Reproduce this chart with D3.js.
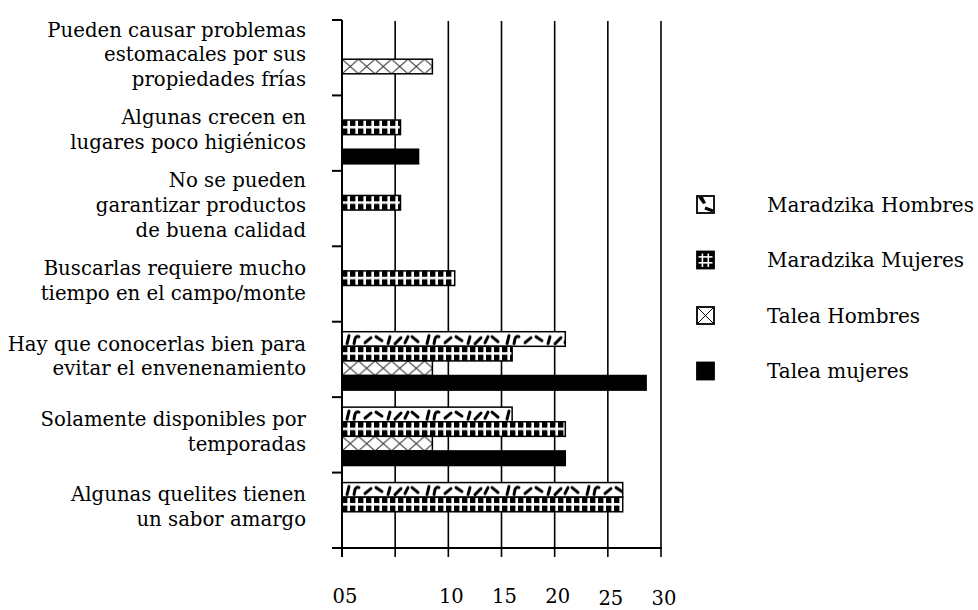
<!DOCTYPE html>
<html><head><meta charset="utf-8">
<script src="https://cdn.jsdelivr.net/npm/d3@7"></script>
<style>body{margin:0;background:#fff}svg{display:block}</style>
</head><body>
<svg id="c" width="978" height="610"></svg>
<script>
const categories = [
  ["Pueden causar problemas","estomacales por sus","propiedades frías"],
  ["Algunas crecen en","lugares poco higiénicos"],
  ["No se pueden","garantizar productos","de buena calidad"],
  ["Buscarlas requiere mucho","tiempo en el campo/monte"],
  ["Hay que conocerlas bien para","evitar el envenenamiento"],
  ["Solamente disponibles por","temporadas"],
  ["Algunas quelites tienen","un sabor amargo"]
];
const seriesNames = ["Maradzika Hombres","Maradzika Mujeres","Talea Hombres","Talea mujeres"];
const maradzikaHombres = [0, 0, 0, 0, 21, 16, 26.4];
const maradzikaMujeres = [0, 5.5, 5.5, 10.6, 16, 21, 26.4];
const taleaHombres     = [8.5, 0, 0, 0, 8.5, 8.5, 0];
const taleaMujeres     = [0, 7.2, 0, 0, 28.6, 21, 0];
const seriesValues = [maradzikaHombres, maradzikaMujeres, taleaHombres, taleaMujeres];
const tickValues = [0, 10, 15, 20, 25, 30];
const tickLabels = ["05", "10", "15", "20", "25", "30"];
const gridValues = [5, 10, 15, 20, 25, 30];

const svg = d3.select("#c");
const FONT = "'DejaVu Serif', serif";
const x = d3.scaleLinear().domain([0, 30]).range([342, 661]);
const y = d3.scaleBand().domain(d3.range(categories.length)).range([20, 548]);
const BH = 14.6;
const ys = d3.scaleBand().domain(d3.range(4)).range([10, 10 + 4 * BH]);
const defs = svg.append("defs");

let pid = 0;
function patMH(ox, oy) {
  const id = "p" + (pid++);
  const W = 80;
  const p = defs.append("pattern").attr("id", id).attr("patternUnits","userSpaceOnUse")
    .attr("x", ox).attr("y", oy).attr("width", W).attr("height", BH);
  p.append("rect").attr("width", W).attr("height", BH).attr("fill","#fff");
  ["M5,12 L7,4","M12,12 L13,7 Q14,4 17,5","M23,11 L29,6","M34,5 L40,9","M46,12 L48,5",
   "M53,12 L59,6","M63,11 L66,5","M70,5 L76,10"]
    .forEach(d => p.append("path").attr("d", d).attr("fill","none").attr("stroke","#000")
      .attr("stroke-width", 3).attr("stroke-linecap","round"));
  return "url(#" + id + ")";
}
function patMM(ox, oy) {
  const id = "p" + (pid++);
  const p = defs.append("pattern").attr("id", id).attr("patternUnits","userSpaceOnUse")
    .attr("x", ox).attr("y", oy).attr("width", 8).attr("height", BH);
  p.append("rect").attr("width", 8).attr("height", BH).attr("fill","#fff");
  p.append("rect").attr("x", 0).attr("y", 0).attr("width", 5.4).attr("height", 5.9).attr("fill","#000");
  p.append("rect").attr("x", 0).attr("y", 8.4).attr("width", 5.4).attr("height", 6.2).attr("fill","#000");
  return "url(#" + id + ")";
}
function patTH(ox, oy) {
  const id = "p" + (pid++);
  const p = defs.append("pattern").attr("id", id).attr("patternUnits","userSpaceOnUse")
    .attr("x", ox).attr("y", oy).attr("width", 16.5).attr("height", BH);
  p.append("rect").attr("width", 16.5).attr("height", BH).attr("fill","#fff");
  p.append("path").attr("d", `M0,0 L16.5,${BH} M16.5,0 L0,${BH}`).attr("stroke","#333").attr("stroke-width", 1);
  return "url(#" + id + ")";
}
const fillers = [patMH, patMM, patTH, () => "#000"];

// gridlines
svg.append("g").selectAll("line").data(gridValues).join("line")
  .attr("x1", d => x(d)).attr("x2", d => x(d)).attr("y1", 21).attr("y2", 557)
  .attr("stroke","#000").attr("stroke-width", 1.6);

// bars
categories.forEach((cat, i) => {
  seriesValues.forEach((vals, s) => {
    const v = vals[i];
    if (!v) return;
    const top = y(i) + ys(s);
    svg.append("rect").attr("x", x(0)).attr("y", top)
      .attr("width", x(v) - x(0)).attr("height", ys.bandwidth())
      .attr("fill", fillers[s](x(0), top)).attr("stroke","#000").attr("stroke-width", 1.5);
  });
});

// axes
svg.append("line").attr("x1",342).attr("x2",342).attr("y1",20).attr("y2",548).attr("stroke","#000").attr("stroke-width",2);
svg.append("line").attr("x1",332).attr("x2",662).attr("y1",548).attr("y2",548).attr("stroke","#000").attr("stroke-width",2);
svg.append("g").selectAll("line").data(d3.range(categories.length)).join("line")
  .attr("x1",332).attr("x2",342).attr("y1", d => y(d)).attr("y2", d => y(d))
  .attr("stroke","#000").attr("stroke-width",2);
svg.append("line").attr("x1",x(0)).attr("x2",x(0)).attr("y1",548).attr("y2",557).attr("stroke","#000").attr("stroke-width",2);

// x tick labels
svg.append("g").selectAll("text").data(tickValues).join("text")
  .attr("x", d => x(d) + 3).attr("y", d => d >= 25 ? 604.5 : 603).attr("text-anchor","middle")
  .attr("font-family", FONT).attr("font-size", 19.5).attr("fill","#000")
  .text((d, i) => tickLabels[i]);

// category labels
const LH = 24.7, FS = 19.7;
categories.forEach((lines, i) => {
  const center = y(i) + y.bandwidth() / 2 - 3;
  const firstBase = Math.max(center - (lines.length - 1) * LH / 2 + 6.5, 30.7);
  lines.forEach((t, k) => {
    svg.append("text").attr("x", 306).attr("y", firstBase + k * LH)
      .attr("text-anchor","end").attr("font-family", FONT).attr("font-size", FS)
      .attr("fill","#000").text(t);
  });
});

// legend
const lg = svg.append("g");
const IS = 17;
seriesNames.forEach((name, s) => {
  const cy = 204.5 + s * 55.5;
  const ix = 697, iy = cy - IS / 2;
  const fill = (s === 0 || s === 2) ? "#fff" : "#000";
  lg.append("rect").attr("x", ix).attr("y", iy).attr("width", IS).attr("height", IS)
    .attr("fill", fill).attr("stroke","#000").attr("stroke-width", 1.8);
  if (s === 0) {
    lg.append("path").attr("d", `M${ix+1},${iy+1} L${ix+6},${iy+1} L${ix+9},${iy+7} L${ix+6},${iy+8} Z`).attr("fill","#000");
    lg.append("path").attr("d", `M${ix+8},${iy+12} L${ix+IS-1},${iy+IS-2}`).attr("stroke","#000").attr("stroke-width",3);
  } else if (s === 1) {
    [5.4, 11.3].forEach(o => {
      lg.append("line").attr("x1", ix + o).attr("x2", ix + o).attr("y1", iy + 2).attr("y2", iy + IS - 1.5).attr("stroke","#fff").attr("stroke-width",1.6);
      lg.append("line").attr("y1", iy + o).attr("y2", iy + o).attr("x1", ix + 1.5).attr("x2", ix + IS - 1.5).attr("stroke","#fff").attr("stroke-width",1.6);
    });
  } else if (s === 2) {
    lg.append("path").attr("d", `M${ix},${iy} L${ix+IS},${iy+IS} M${ix+IS},${iy} L${ix},${iy+IS}`).attr("stroke","#000").attr("stroke-width",1);
  }
  lg.append("text").attr("x", 767).attr("y", cy + 7)
    .attr("font-family", FONT).attr("font-size", 20).attr("fill","#000").text(name);
});
</script>
</body></html>
